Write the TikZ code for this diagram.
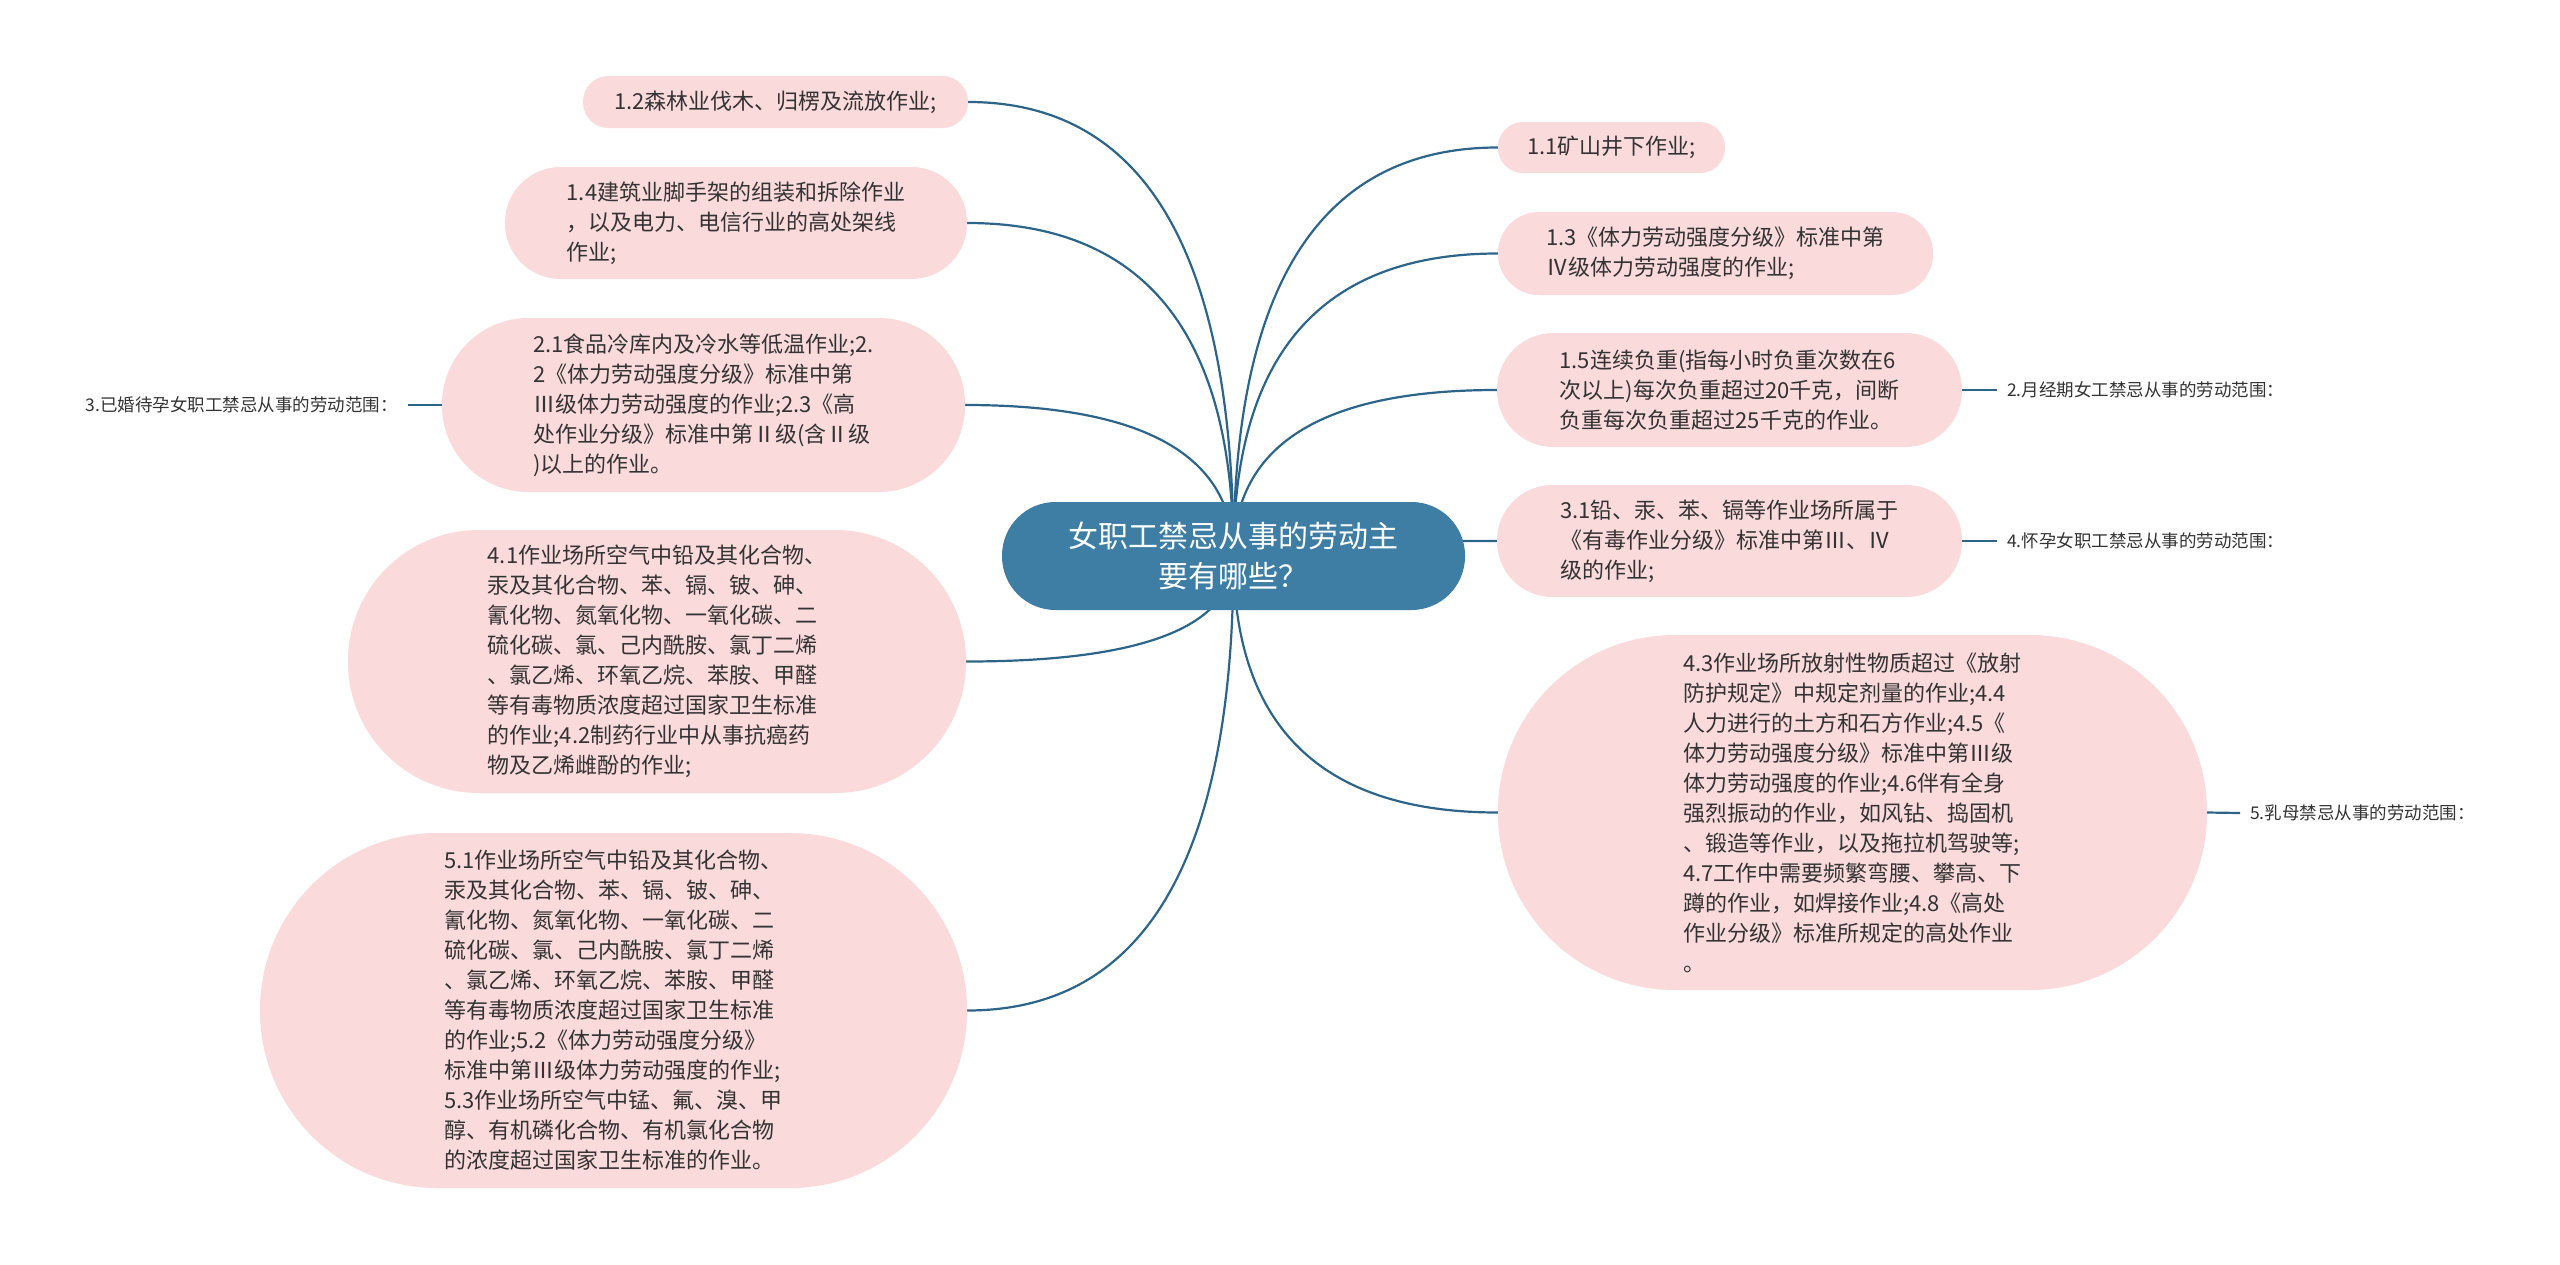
\documentclass[tikz,border=0pt]{standalone}
\usepackage{fontspec}
\setmainfont{Noto Sans CJK SC}
\usetikzlibrary{calc,backgrounds}
\definecolor{pinkfill}{RGB}{250,218,219}
\definecolor{rootfill}{RGB}{62,126,164}
\definecolor{linkblue}{RGB}{44,100,138}
\definecolor{txt}{RGB}{51,51,51}
\begin{document}
\begin{tikzpicture}[x=1pt,y=-1pt,
  pill/.style n args={2}{minimum width=#1pt, minimum height=#2pt, rounded corners=#2*0.5pt-0.5pt},
  leafbox/.style={fill=pinkfill, draw=none, inner sep=0pt, align=left, text=txt,
    font=\fontsize{22}{30}\selectfont},
  rootbox/.style={fill=rootfill, draw=none, inner sep=0pt, align=center, text=white,
    font=\fontsize{30}{40}\selectfont},
  labelbox/.style={inner xsep=10pt, inner ysep=0pt, text=txt, font=\fontsize{17.5}{22}\selectfont},
  link/.style={draw=linkblue, line width=2.2pt}
]
\useasboundingbox (0,0) rectangle (2560,1264);
\begin{scope}[on background layer]
  \fill[white] (0,0) rectangle (2560,1264);
\end{scope}

% root
\node[rootbox, pill={463}{108}] (root) at (1233.5,556) {女职工禁忌从事的劳动主\\要有哪些？};

% left side
\node[leafbox, pill={385}{52}] (n12) at (775.5,102) {1.2森林业伐木、归楞及流放作业;};
\node[leafbox, pill={462}{112}] (n14) at (736,223) {1.4建筑业脚手架的组装和拆除作业\\，以及电力、电信行业的高处架线\\作业;};
\node[leafbox, pill={523}{174}] (n21) at (703.5,405) {2.1食品冷库内及冷水等低温作业;2.\\2《体力劳动强度分级》标准中第\\Ⅲ级体力劳动强度的作业;2.3《高\\处作业分级》标准中第Ⅱ级(含Ⅱ级\\)以上的作业。};
\node[leafbox, pill={618}{263}] (n41) at (657,661.5) {4.1作业场所空气中铅及其化合物、\\汞及其化合物、苯、镉、铍、砷、\\氰化物、氮氧化物、一氧化碳、二\\硫化碳、氯、己内酰胺、氯丁二烯\\、氯乙烯、环氧乙烷、苯胺、甲醛\\等有毒物质浓度超过国家卫生标准\\的作业;4.2制药行业中从事抗癌药\\物及乙烯雌酚的作业;};
\node[leafbox, pill={707}{355}] (n51) at (613.5,1010.5) {5.1作业场所空气中铅及其化合物、\\汞及其化合物、苯、镉、铍、砷、\\氰化物、氮氧化物、一氧化碳、二\\硫化碳、氯、己内酰胺、氯丁二烯\\、氯乙烯、环氧乙烷、苯胺、甲醛\\等有毒物质浓度超过国家卫生标准\\的作业;5.2《体力劳动强度分级》\\标准中第Ⅲ级体力劳动强度的作业;\\5.3作业场所空气中锰、氟、溴、甲\\醇、有机磷化合物、有机氯化合物\\的浓度超过国家卫生标准的作业。};

% right side
\node[leafbox, pill={227}{51}] (n11) at (1611.5,147.5) {1.1矿山井下作业;};
\node[leafbox, pill={435}{83}] (n13) at (1715.5,253.5) {1.3《体力劳动强度分级》标准中第\\Ⅳ级体力劳动强度的作业;};
\node[leafbox, pill={465}{114}] (n15) at (1729.5,390) {1.5连续负重(指每小时负重次数在6\\次以上)每次负重超过20千克，间断\\负重每次负重超过25千克的作业。};
\node[leafbox, pill={465}{112}] (n31) at (1729.5,541) {3.1铅、汞、苯、镉等作业场所属于\\《有毒作业分级》标准中第Ⅲ、Ⅳ\\级的作业;};
\node[leafbox, pill={709}{355}] (n43) at (1852.5,812.5) {4.3作业场所放射性物质超过《放射\\防护规定》中规定剂量的作业;4.4\\人力进行的土方和石方作业;4.5《\\体力劳动强度分级》标准中第Ⅲ级\\体力劳动强度的作业;4.6伴有全身\\强烈振动的作业，如风钻、捣固机\\、锻造等作业，以及拖拉机驾驶等;\\4.7工作中需要频繁弯腰、攀高、下\\蹲的作业，如焊接作业;4.8《高处\\作业分级》标准所规定的高处作业\\。};

% side labels
\node[labelbox, anchor=east] (lab3) at (408,405) {3.已婚待孕女职工禁忌从事的劳动范围：};
\node[labelbox, anchor=west] (lab2) at (1997,390) {2.月经期女工禁忌从事的劳动范围：};
\node[labelbox, anchor=west] (lab4) at (1997,541) {4.怀孕女职工禁忌从事的劳动范围：};
\node[labelbox, anchor=west] (lab5) at (2240,813) {5.乳母禁忌从事的劳动范围：};

\draw[link] (lab3.east) -- (n21.west);
\draw[link] (n15.east) -- (lab2.west);
\draw[link] (n31.east) -- (lab4.west);
\draw[link] (n43.east) -- (lab5.west);

% root connectors (behind root)
\begin{scope}[on background layer]
\foreach \c/\a in {n12/east, n14/east, n21/east, n41/east, n51/east,
                   n11/west, n13/west, n15/west, n31/west, n43/west}{
  \coordinate (ctl) at (root.center |- \c.\a);
  \draw[link] (root.center) .. controls ($(root.center)!0.6667!(ctl)$) and ($(\c.\a)!0.6667!(ctl)$) .. (\c.\a);
}
\end{scope}
\end{tikzpicture}
\end{document}
